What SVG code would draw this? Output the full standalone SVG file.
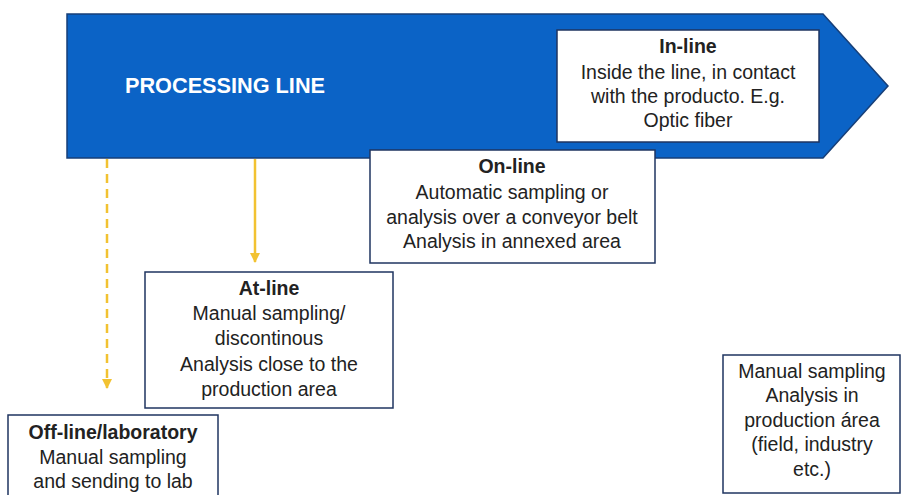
<svg xmlns="http://www.w3.org/2000/svg" width="905" height="495" viewBox="0 0 905 495">
<style>
.box{fill:#fff;stroke:#1f3560;stroke-width:1.5}
.t{font-family:"Liberation Sans",Arial,sans-serif;font-size:19.5px;fill:#222;text-anchor:middle}
.b{font-weight:bold}
.conn{stroke:#f2c231;stroke-width:2.5;fill:none}
</style>
<defs>
<marker id="ah" viewBox="0 0 10 10" refX="9" refY="5" markerWidth="4" markerHeight="4" orient="auto" markerUnits="strokeWidth">
<path d="M0,0 L10,5 L0,10 z" fill="#f2c231"/>
</marker>
</defs>
<rect width="905" height="495" fill="#fff"/>
<g id="processing-line">
<polygon points="67,14 823,14 888,86 823,158 67,158" fill="#0b63c6" stroke="#173f78" stroke-width="1.5"/>
<text x="225" y="93" font-family="Liberation Sans,Arial,sans-serif" font-size="21.7" font-weight="bold" fill="#fff" text-anchor="middle">PROCESSING LINE</text>
</g>
<g id="connectors">
<line class="conn" x1="255" y1="159" x2="255" y2="262" marker-end="url(#ah)"/>
<line class="conn" x1="107" y1="159" x2="107" y2="388" stroke-dasharray="9,6" marker-end="url(#ah)"/>
</g>
<g id="in-line">
<rect class="box" x="557" y="30" width="262" height="112"/>
<text class="t b" x="688" y="53">In-line</text>
<text class="t" x="688" y="79">Inside the line, in contact</text>
<text class="t" x="688" y="103">with the producto. E.g.</text>
<text class="t" x="688" y="127">Optic fiber</text>
</g>
<g id="on-line">
<rect class="box" x="370" y="150" width="285" height="113"/>
<text class="t b" x="512" y="173">On-line</text>
<text class="t" x="512" y="199">Automatic sampling or</text>
<text class="t" x="512" y="224">analysis over a conveyor belt</text>
<text class="t" x="512" y="248">Analysis in annexed area</text>
</g>
<g id="at-line">
<rect class="box" x="145" y="272" width="248" height="136"/>
<text class="t b" x="269" y="295">At-line</text>
<text class="t" x="269" y="320">Manual sampling/</text>
<text class="t" x="269" y="345">discontinous</text>
<text class="t" x="269" y="371">Analysis close to the</text>
<text class="t" x="269" y="396">production area</text>
</g>
<g id="off-line">
<rect class="box" x="8" y="415" width="210" height="90"/>
<text class="t b" x="113" y="439">Off-line/laboratory</text>
<text class="t" x="113" y="464">Manual sampling</text>
<text class="t" x="113" y="488">and sending to lab</text>
</g>
<g id="field">
<rect class="box" x="723" y="355" width="177" height="138"/>
<text class="t" x="812" y="378">Manual sampling</text>
<text class="t" x="812" y="402">Analysis in</text>
<text class="t" x="812" y="427">production área</text>
<text class="t" x="812" y="451">(field, industry</text>
<text class="t" x="812" y="476">etc.)</text>
</g>
</svg>
